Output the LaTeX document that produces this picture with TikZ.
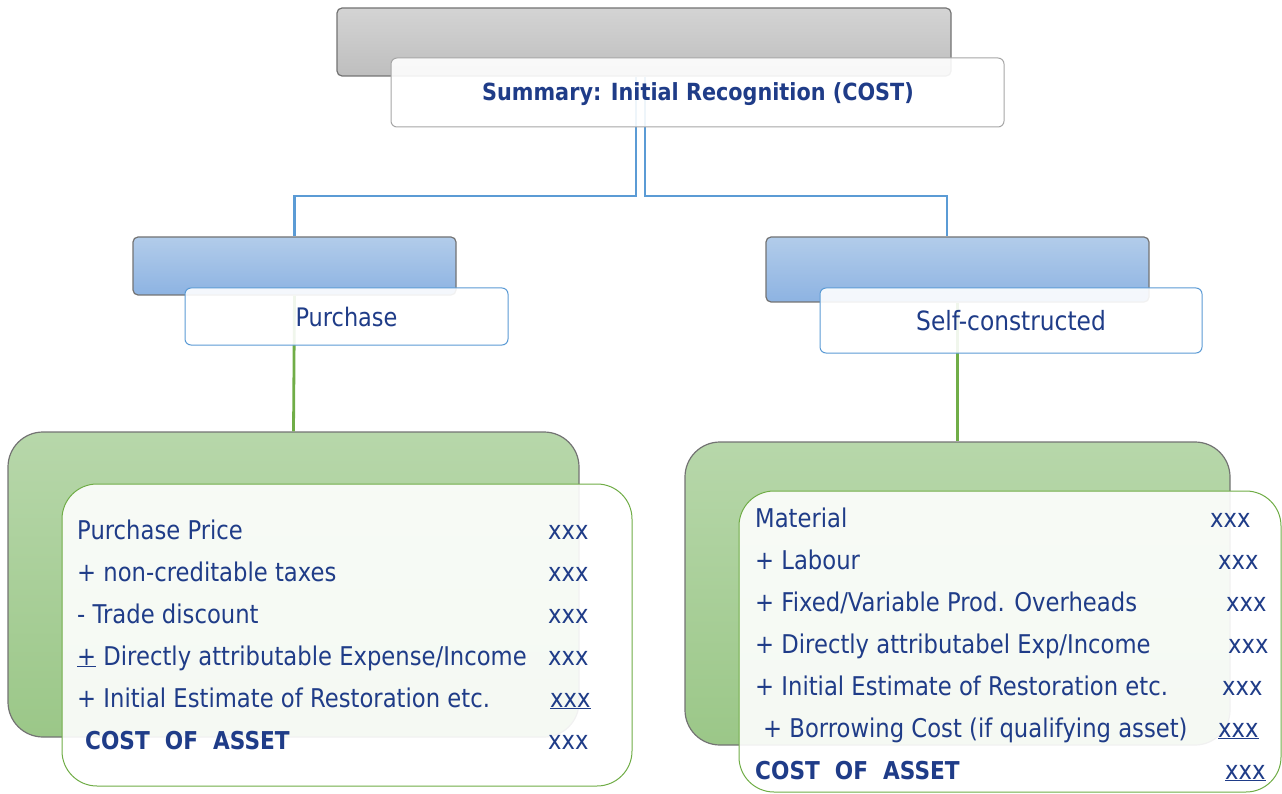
\documentclass[tikz,border=0pt]{standalone}
\usepackage{fontspec}
\newfontfamily\handfont[FakeStretch=0.88]{DejaVu Sans}
\definecolor{ink}{HTML}{1F3C88}
\definecolor{linkblue}{HTML}{5B9BD5}
\definecolor{linkgreen}{HTML}{70AD47}
\definecolor{grayA}{HTML}{D4D4D4}
\definecolor{grayB}{HTML}{BEBEBE}
\definecolor{blueA}{HTML}{B2CCEA}
\definecolor{blueB}{HTML}{8DB3E2}
\definecolor{greenA}{HTML}{B7D7AA}
\definecolor{greenB}{HTML}{9BC788}
\tikzset{
  backbox/.style={rectangle, rounded corners=5pt, draw=black!55, line width=1.2pt, inner sep=0pt},
  frontbox/.style={rectangle, rounded corners=6pt, fill=white, fill opacity=0.9, text opacity=1,
                   line width=1pt, inner sep=0pt, text=ink},
  hand/.style={font=\handfont\fontsize{#1}{#1}\selectfont},
  row/.style={anchor=base west, inner sep=0pt, text=ink, hand=25.8},
  total/.style={row, font=\handfont\bfseries\fontsize{24.6}{24.6}\selectfont},
  link/.style={line width=2.8pt}
}
\begin{document}
\begin{tikzpicture}[x=1pt,y=-1pt]
\useasboundingbox (0,0) rectangle (1282,794);

% back panels
\node[backbox, top color=grayA, bottom color=grayB, minimum width=614pt, minimum height=68pt] (topback) at (644,42) {};
\node[backbox, top color=blueA, bottom color=blueB, minimum width=323pt, minimum height=58pt] (lblue) at (294.5,266) {};
\node[backbox, top color=blueA, bottom color=blueB, minimum width=383pt, minimum height=65pt] (rblue) at (957.5,269.5) {};
\node[backbox, rounded corners=35pt, top color=greenA, bottom color=greenB, minimum width=571pt, minimum height=305pt] (lgreen) at (293.5,584.5) {};
\node[backbox, rounded corners=35pt, top color=greenA, bottom color=greenB, minimum width=545pt, minimum height=303pt] (rgreen) at (957.5,593.5) {};

% connectors
\coordinate (jl) at (636,196);
\coordinate (jr) at (645,196);
\draw[link, linkblue] (jl |- topback.south) -- (jl) -| (lblue.north);
\draw[link, linkblue] (jr |- topback.south) -- (jr) -| ([xshift=-10.5pt]rblue.north);
\draw[link, linkgreen] (lblue.south) -- (lgreen.north);
\draw[link, linkgreen] (rblue.south) -- (rgreen.north);

% front panels
\node[frontbox, draw=black!35, minimum width=613pt, minimum height=69pt] (top) at (697.5,92.5) {};
\node[frontbox, draw=linkblue, minimum width=323pt, minimum height=57pt, hand=25.5] (purchase) at (346.5,316.5) {Purchase};
\node[frontbox, draw=linkblue, minimum width=382pt, minimum height=65pt, hand=26.5] (selfc) at (1011,320.5) {Self-constructed};
\node[frontbox, draw=linkgreen, rounded corners=35pt, minimum width=570pt, minimum height=302pt] (lbody) at (347,635) {};
\node[frontbox, draw=linkgreen, rounded corners=35pt, minimum width=542pt, minimum height=301pt] (rbody) at (1010,641.5) {};

% title
\node[text=ink, inner sep=0pt, anchor=base, font=\handfont\bfseries\fontsize{23.6}{23.6}\selectfont]
  (title) at (698,101) {Summary: Initial Recognition (COST)};

% purchase items
\node[row] (l1) at (77,539) {Purchase Price};
\node[row] (l2) at (77,581) {+ non-creditable taxes};
\node[row] (l3) at (77,623) {- Trade discount};
\node[row] (l4) at (77,665) {\underline{+} Directly attributable Expense/Income};
\node[row] (l5) at (77,707) {+ Initial Estimate of Restoration etc.};
\node[total] (l6) at (85,749) {COST\ \ OF\ \ ASSET};
\node[row] (l1v) at (548,539) {xxx};
\node[row] (l2v) at (548,581) {xxx};
\node[row] (l3v) at (548,623) {xxx};
\node[row] (l4v) at (548,665) {xxx};
\node[row] (l5v) at (550,707) {\underline{xxx}};
\node[row] (l6v) at (548,749) {xxx};

% self-constructed items
\node[row] (r1) at (755,527) {Material};
\node[row] (r2) at (755,569) {+ Labour};
\node[row] (r3) at (755,611) {+ Fixed/Variable Prod. Overheads};
\node[row] (r4) at (755,653) {+ Directly attributabel Exp/Income};
\node[row] (r5) at (755,695) {+ Initial Estimate of Restoration etc.};
\node[row] (r6) at (763,737) {+ Borrowing Cost (if qualifying asset)};
\node[total] (r7) at (755,779) {COST\ \ OF\ \ ASSET};
\node[row] (r1v) at (1210,527) {xxx};
\node[row] (r2v) at (1218,569) {xxx};
\node[row] (r3v) at (1226,611) {xxx};
\node[row] (r4v) at (1228,653) {xxx};
\node[row] (r5v) at (1222,695) {xxx};
\node[row] (r6v) at (1218,737) {\underline{xxx}};
\node[row] (r7v) at (1225,779) {\underline{xxx}};
\end{tikzpicture}
\end{document}
